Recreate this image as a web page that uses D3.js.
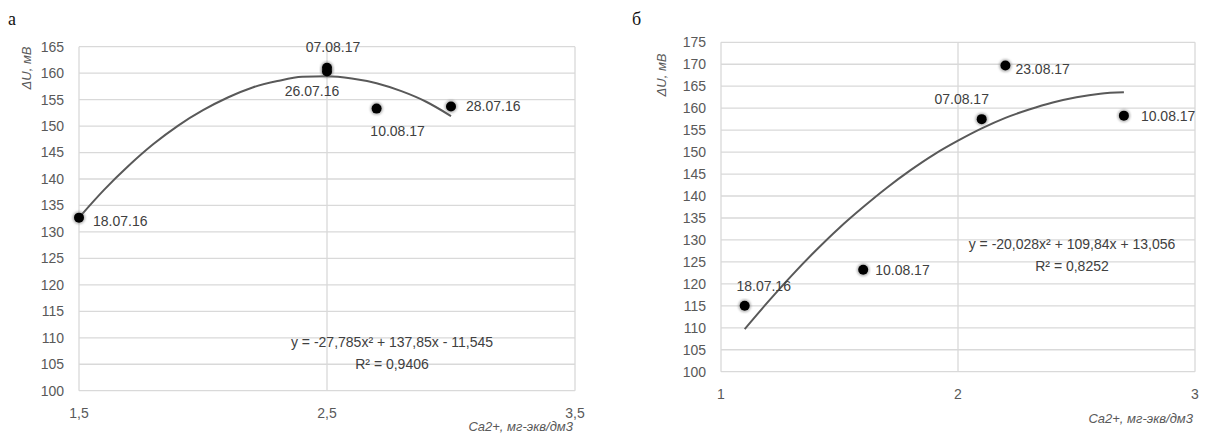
<!DOCTYPE html>
<meta charset="utf-8">
<script src="https://d3js.org/d3.v7.min.js"></script>
<style>
  body { margin: 0; background: #fff; }
  text { font-family: "Liberation Sans Narrow", "Arial Narrow", "Liberation Sans", sans-serif; }
</style>
<div id="my_dataviz"></div>
<script>

// ---- panel a data ----
var aX = [1.5, 2.5, 2.5, 2.7, 3.0];
var aY = [132.7, 161.0, 160.3, 153.3, 153.7];
var aLabels = ["18.07.16", "07.08.17", "26.07.16", "10.08.17", "28.07.16"];
var aTrendX = [1.5, 1.6, 1.7, 1.8, 1.9, 2.0, 2.1, 2.2, 2.3, 2.4, 2.5, 2.6, 2.7, 2.8, 2.9, 3.0];
var aTrendY = [132.7, 137.9, 142.5, 146.6, 150.1, 153.0, 155.4, 157.3, 158.5, 159.3, 159.4, 159.0, 158.1, 156.6, 154.6, 151.9];
var aXTicks = [1.5, 2.5, 3.5];
var aYTicks = [100, 105, 110, 115, 120, 125, 130, 135, 140, 145, 150, 155, 160, 165];
var aEquation = ["y = -27,785x² + 137,85x - 11,545", "R² = 0,9406"];

// ---- panel b data ----
var bX = [1.1, 1.6, 2.1, 2.2, 2.7];
var bY = [115.0, 123.2, 157.5, 169.7, 158.3];
var bLabels = ["18.07.16", "10.08.17", "07.08.17", "23.08.17", "10.08.17"];
var bTrendX = [1.1, 1.2, 1.3, 1.4, 1.5, 1.6, 1.7, 1.8, 1.9, 2.0, 2.1, 2.2, 2.3, 2.4, 2.5, 2.6, 2.7];
var bTrendY = [109.7, 116.0, 122.0, 127.6, 132.8, 137.5, 141.9, 145.9, 149.5, 152.6, 155.4, 157.8, 159.7, 161.3, 162.5, 163.3, 163.6];
var bXTicks = [1, 2, 3];
var bYTicks = [100, 105, 110, 115, 120, 125, 130, 135, 140, 145, 150, 155, 160, 165, 170, 175];
var bEquation = ["y = -20,028x² + 109,84x + 13,056", "R² = 0,8252"];

var xTitle = "Ca2+, мг-экв/дм3";
var yTitle = "ΔU, мВ";

// label placement (pixel offsets from the point, anchor)
var aLabelOff = [[14, 3, "start"], [6, -21, "middle"], [-15, 20, "middle"], [21, 22, "middle"], [15, 0, "start"]];
var bLabelOff = [[19, -20, "middle"], [12, 0, "start"], [-20, -20, "middle"], [10, 4, "start"], [17, 0, "start"]];

var svg = d3.select("#my_dataviz")
  .append("svg")
    .attr("width", 1210)
    .attr("height", 439);

var defs = svg.append("defs");
defs.append("filter").attr("id", "soft")
  .append("feGaussianBlur").attr("stdDeviation", 1.2);

function fmt(v) { return String(v).replace(".", ","); }

function drawPanel(o) {
  var x = d3.scaleLinear().domain(o.xDomain).range([o.left, o.right]);
  var y = d3.scaleLinear().domain(o.yDomain).range([o.bottom, o.top]);
  var g = svg.append("g");

  // panel letter
  g.append("text")
    .attr("x", o.letterX).attr("y", 25)
    .style("font-family", "'Liberation Serif', serif")
    .style("font-size", "18px")
    .attr("fill", "#111")
    .text(o.letter);

  // horizontal grid
  g.selectAll(".hg").data(o.yTicks).enter().append("line")
    .attr("x1", o.left).attr("x2", o.right)
    .attr("y1", function(d) { return y(d); })
    .attr("y2", function(d) { return y(d); })
    .attr("stroke", "#d9d9d9").attr("stroke-width", 1.3);

  // vertical grid
  g.selectAll(".vg").data(o.xTicks).enter().append("line")
    .attr("y1", o.top).attr("y2", o.bottom)
    .attr("x1", function(d) { return x(d); })
    .attr("x2", function(d) { return x(d); })
    .attr("stroke", "#d9d9d9").attr("stroke-width", 1.3);

  // y tick labels
  g.selectAll(".yl").data(o.yTicks).enter().append("text")
    .attr("x", o.left - 15)
    .attr("y", function(d) { return y(d); })
    .attr("dy", "0.35em")
    .attr("text-anchor", "end")
    .style("font-size", "14px")
    .attr("fill", "#595959")
    .text(function(d) { return d; });

  // x tick labels
  g.selectAll(".xl").data(o.xTicks).enter().append("text")
    .attr("x", function(d) { return x(d); })
    .attr("y", o.bottom + 22)
    .attr("dy", "0.35em")
    .attr("text-anchor", "middle")
    .style("font-size", "14px")
    .attr("fill", "#595959")
    .text(function(d) { return fmt(d); });

  // axis titles
  g.append("text")
    .attr("x", o.right - 2).attr("y", o.xTitleY)
    .attr("text-anchor", "end")
    .style("font-size", "13px").style("font-style", "italic")
    .attr("fill", "#595959")
    .text(xTitle);

  g.append("text")
    .attr("transform", "translate(" + o.yTitleX + "," + o.yTitleY + ") rotate(-90)")
    .attr("text-anchor", "middle")
    .style("font-size", "13px").style("font-style", "italic")
    .attr("fill", "#595959")
    .text(yTitle);

  // trend line
  var trend = o.trendX.map(function(d, i) { return [d, o.trendY[i]]; });
  g.append("path")
    .datum(trend)
    .attr("fill", "none")
    .attr("stroke", "#595959")
    .attr("stroke-width", 2)
    .attr("d", d3.line()
      .x(function(d) { return x(d[0]); })
      .y(function(d) { return y(d[1]); })
      .curve(d3.curveMonotoneX));

  // points
  var pts = o.xs.map(function(d, i) {
    return { x: d, y: o.ys[i], label: o.labels[i], off: o.labelOff[i] };
  });
  g.selectAll(".halo").data(pts).enter().append("circle")
    .attr("cx", function(d) { return x(d.x); })
    .attr("cy", function(d) { return y(d.y); })
    .attr("r", 6.5)
    .attr("fill", "#777")
    .attr("opacity", 0.5)
    .attr("filter", "url(#soft)");
  g.selectAll(".pt").data(pts).enter().append("circle")
    .attr("cx", function(d) { return x(d.x); })
    .attr("cy", function(d) { return y(d.y); })
    .attr("r", 5)
    .attr("fill", "#000");

  // data labels
  g.selectAll(".lbl").data(pts).enter().append("text")
    .attr("x", function(d) { return x(d.x) + d.off[0]; })
    .attr("y", function(d) { return y(d.y) + d.off[1]; })
    .attr("dy", "0.35em")
    .attr("text-anchor", function(d) { return d.off[2]; })
    .style("font-size", "14px")
    .attr("fill", "#404040")
    .text(function(d) { return d.label; });

  // equation
  g.selectAll(".eq").data(o.equation).enter().append("text")
    .attr("x", o.eqX)
    .attr("y", function(d, i) { return o.eqY + i * 22; })
    .attr("dy", "0.35em")
    .attr("text-anchor", "middle")
    .style("font-size", "14px")
    .attr("fill", "#404040")
    .text(function(d) { return d; });
}

drawPanel({
  letter: "а", letterX: 8,
  xDomain: [1.5, 3.5], yDomain: [100, 165],
  left: 79, right: 575, top: 46.7, bottom: 390.7,
  xs: aX, ys: aY, labels: aLabels, labelOff: aLabelOff,
  trendX: aTrendX, trendY: aTrendY,
  xTicks: aXTicks, yTicks: aYTicks, equation: aEquation,
  eqX: 392, eqY: 342,
  xTitleY: 431, yTitleX: 31, yTitleY: 68
});

drawPanel({
  letter: "б", letterX: 632,
  xDomain: [1, 3], yDomain: [100, 175],
  left: 721, right: 1195, top: 42.3, bottom: 371.7,
  xs: bX, ys: bY, labels: bLabels, labelOff: bLabelOff,
  trendX: bTrendX, trendY: bTrendY,
  xTicks: bXTicks, yTicks: bYTicks, equation: bEquation,
  eqX: 1072, eqY: 244,
  xTitleY: 423, yTitleX: 666, yTitleY: 75
});

</script>
